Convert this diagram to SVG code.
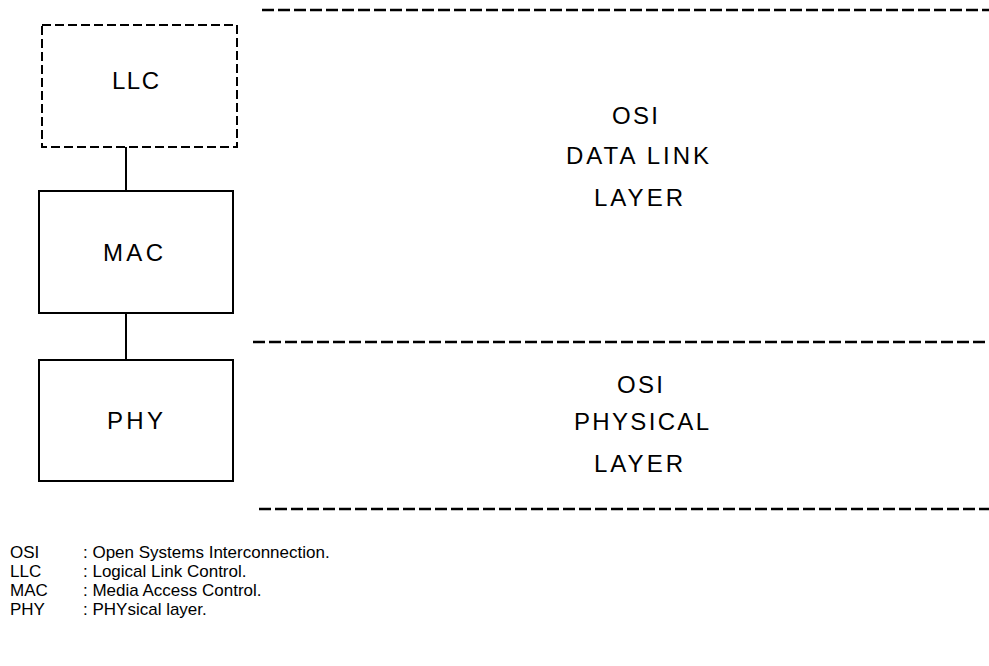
<svg xmlns="http://www.w3.org/2000/svg" width="989" height="666" viewBox="0 0 989 666">
<style>
.box{fill:#fff;stroke:#000;stroke-width:2}
.dbox{fill:#fff;stroke:#000;stroke-width:2;stroke-dasharray:9 4}
.sep{stroke:#000;stroke-width:2.5;stroke-dasharray:12 4;fill:none}
.con{stroke:#000;stroke-width:2;fill:none}
.lbl{font-family:"Liberation Sans",Arial,sans-serif;font-size:24px;fill:#000}
.leg{font-family:"Liberation Sans",Arial,sans-serif;font-size:17px;fill:#000}
</style>
<rect width="989" height="666" fill="#fff"/>
<g id="separators">
<line class="sep" x1="262" y1="10" x2="989" y2="10"/>
<line class="sep" x1="253" y1="342" x2="989" y2="342"/>
<line class="sep" x1="259" y1="509" x2="989" y2="509"/>
</g>
<g id="connectors">
<line class="con" x1="126" y1="147" x2="126" y2="191"/>
<line class="con" x1="126" y1="313" x2="126" y2="360"/>
</g>
<g id="llc">
<rect class="dbox" x="42" y="25" width="195" height="122"/>
<text class="lbl" x="112" y="89" textLength="47" lengthAdjust="spacing">LLC</text>
</g>
<g id="mac">
<rect class="box" x="39" y="191" width="194" height="122"/>
<text class="lbl" x="103" y="261" textLength="60" lengthAdjust="spacing">MAC</text>
</g>
<g id="phy">
<rect class="box" x="39" y="360" width="194" height="121"/>
<text class="lbl" x="107" y="429" textLength="56" lengthAdjust="spacing">PHY</text>
</g>
<g id="datalink">
<text class="lbl" x="612" y="124" textLength="46" lengthAdjust="spacing">OSI</text>
<text class="lbl" x="566" y="164" textLength="143" lengthAdjust="spacing">DATA LINK</text>
<text class="lbl" x="594" y="206" textLength="89" lengthAdjust="spacing">LAYER</text>
</g>
<g id="physical">
<text class="lbl" x="617" y="393" textLength="46" lengthAdjust="spacing">OSI</text>
<text class="lbl" x="574" y="430" textLength="135" lengthAdjust="spacing">PHYSICAL</text>
<text class="lbl" x="594" y="472" textLength="89" lengthAdjust="spacing">LAYER</text>
</g>
<g id="legend">
<text class="leg" x="10" y="558">OSI</text>
<text class="leg" x="83" y="558">: Open Systems Interconnection.</text>
<text class="leg" x="10" y="577">LLC</text>
<text class="leg" x="83" y="577">: Logical Link Control.</text>
<text class="leg" x="10" y="596">MAC</text>
<text class="leg" x="83" y="596">: Media Access Control.</text>
<text class="leg" x="10" y="615">PHY</text>
<text class="leg" x="83" y="615">: PHYsical layer.</text>
</g>
</svg>
